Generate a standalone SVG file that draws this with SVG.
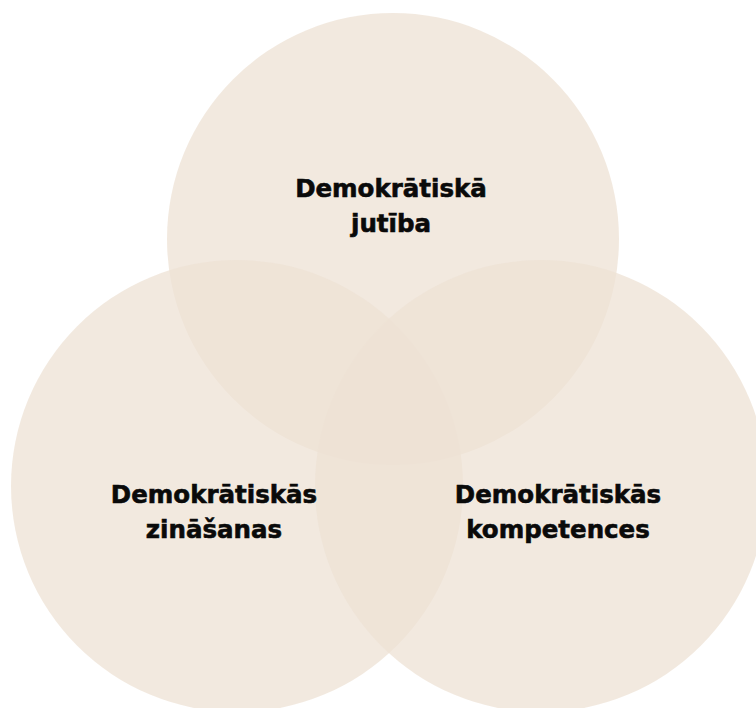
<svg xmlns="http://www.w3.org/2000/svg" width="756" height="708" viewBox="0 0 756 708">
<style>
.c{fill:#EEE2D4;fill-opacity:0.75}
.t{font-family:"DejaVu Sans","Liberation Sans",sans-serif;font-weight:bold;font-size:24.5px;fill:#0a0a0a;stroke:#0a0a0a;stroke-width:0.6;text-anchor:middle}
</style>
<rect width="756" height="708" fill="#ffffff"/>
<g id="node-jutiba">
<circle class="c" cx="393" cy="239" r="226"/>
</g>
<g id="node-zinasanas">
<circle class="c" cx="237" cy="486" r="226"/>
</g>
<g id="node-kompetences">
<circle class="c" cx="541" cy="486" r="226"/>
</g>
<g id="connectors"></g>
<g id="labels">
<text class="t" x="391" y="197">Demokrātiskā</text>
<text class="t" x="391" y="232">jutība</text>
<text class="t" x="214" y="503">Demokrātiskās</text>
<text class="t" x="214" y="538">zināšanas</text>
<text class="t" x="558" y="503">Demokrātiskās</text>
<text class="t" x="558" y="538">kompetences</text>
</g>
</svg>
